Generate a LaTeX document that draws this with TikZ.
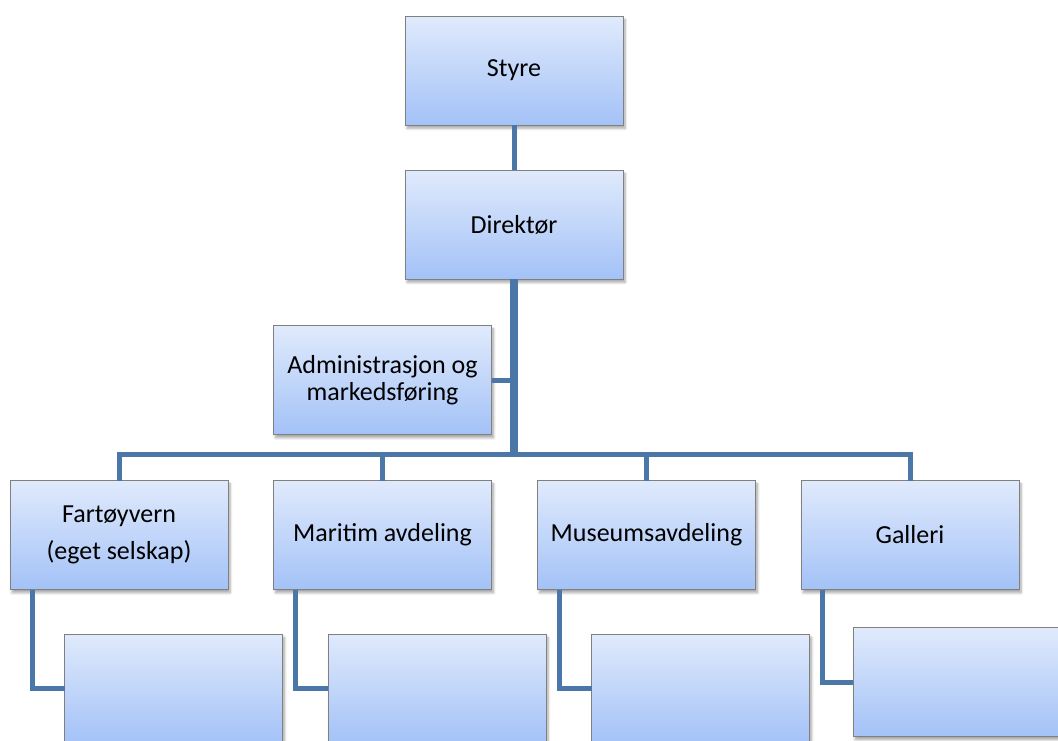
\documentclass[tikz,border=0pt]{standalone}
\usepackage{fontspec}
\setmainfont{Carlito}
\usetikzlibrary{calc,shadows.blur}
\definecolor{boxtop}{RGB}{224,234,252}
\definecolor{boxbot}{RGB}{163,194,247}
\definecolor{linkblue}{RGB}{74,118,168}
\definecolor{boxedge}{RGB}{128,128,128}
\tikzset{
  orgbox/.style={draw=boxedge, line width=0.6pt, top color=boxtop, bottom color=boxbot,
    minimum width=163.5pt, minimum height=81.75pt, inner sep=0pt, outer sep=0pt,
    align=center, font=\fontsize{19.5}{20.25}\selectfont,
    blur shadow={shadow xshift=1.5pt, shadow yshift=-2.5pt, shadow blur steps=6, shadow opacity=35}},
  link/.style={draw=linkblue, line width=3.75pt},
  trunk/.style={draw=linkblue, line width=6.5pt}
}
\begin{document}
\begin{tikzpicture}[x=0.75pt,y=-0.75pt]
  \clip (0,0) rectangle (1058,740);

  \node[orgbox] (sty) at (514,70.5) {Styre};
  \node[orgbox] (dir) at (514,224.5) {Direktør};
  \node[orgbox] (adm) at (382.5,380) {Administrasjon og\\markedsføring};

  \node[orgbox] (far) at (119,535) {Fartøyvern\\[7.5pt](eget selskap)};
  \node[orgbox] (mar) at (382.5,535) {Maritim avdeling};
  \node[orgbox] (mus) at (646.5,535) {Museumsavdeling};
  \node[orgbox] (gal) at (910,535) {Galleri};

  \node[orgbox] (farsub) at (173.5,688.5) {};
  \node[orgbox] (marsub) at (437,688.5) {};
  \node[orgbox] (mussub) at (700.5,688.5) {};
  \node[orgbox] (galsub) at (962,682) {};

  \coordinate (bus) at (514,454);

\draw[link] (sty.south) -- (dir.north);
\draw[trunk] (dir.south) -- (bus);
\draw[link] (adm.east) -- (adm.east -| bus);
\draw[link] (far.north) |- (bus) -| (gal.north);
\draw[link] (mar.north) |- (bus);
\draw[link] (mus.north) |- (bus);

\draw[link] ($(far.south west)+(22,0)$) |- (farsub.west);
\draw[link] ($(mar.south west)+(22,0)$) |- (marsub.west);
\draw[link] ($(mus.south west)+(22,0)$) |- (mussub.west);
\draw[link] ($(gal.south west)+(21,0)$) |- (galsub.west);
\end{tikzpicture}
\end{document}
